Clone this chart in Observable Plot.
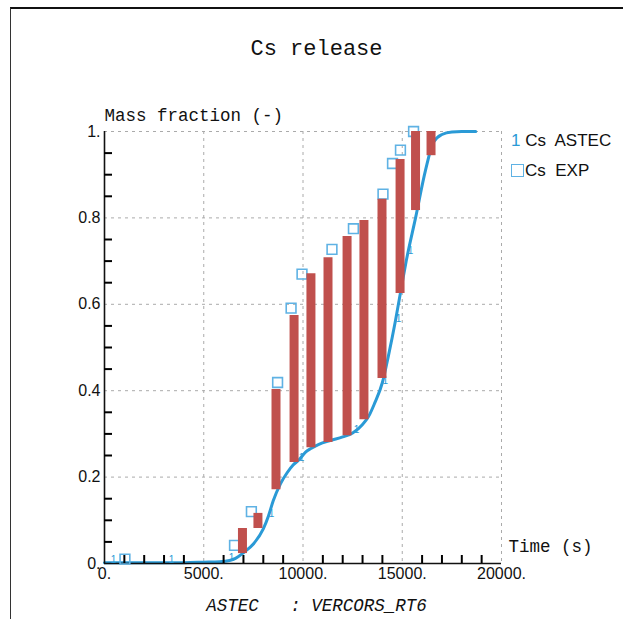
<!DOCTYPE html>
<html><head><meta charset="utf-8">
<script src="https://cdn.jsdelivr.net/npm/d3@7"></script>
<script src="https://cdn.jsdelivr.net/npm/@observablehq/plot@0.6"></script>
<style>
body{margin:0;background:#fff;}
#wrap{position:relative;width:623px;height:619px;overflow:hidden;background:#fff;}
#border{position:absolute;left:10px;top:7px;width:640px;height:640px;border-top:2px solid #111;border-left:1px solid #333;}
#title{position:absolute;top:37px;left:10px;width:613px;text-align:center;font:22px "Liberation Mono",monospace;color:#111;}
#caption{position:absolute;top:596px;left:10px;width:613px;text-align:center;font:italic 17.5px "Liberation Mono",monospace;color:#111;white-space:pre;}
#plot{position:absolute;left:0;top:0;}
.leg{position:absolute;left:511px;font:17px "Liberation Sans",sans-serif;color:#111;white-space:pre;}
.one{color:#2a9ad6;}
.sq{display:inline-block;width:11px;height:11px;border:1.6px solid #5fb2e4;margin-right:1px;vertical-align:-1px;}
</style></head>
<body>
<div id="wrap">
  <div id="border"></div>
  <div id="plot"></div>
  <div id="title">Cs release</div>
  <div id="caption"></div>
  <div class="leg" style="top:131px"><span class="one">1</span> Cs  ASTEC</div>
  <div class="leg" style="top:161px"><span class="sq"></span>Cs  EXP</div>
</div>
<script>
// ---- data ----
const titleText = "Cs release";
const captionText = "ASTEC   : VERCORS_RT6";
const yLabel = "Mass fraction (-)";
const xLabel = "Time (s)";

const xTicks = [0, 5000, 10000, 15000, 20000];
const xTickLabels = ["0.", "5000.", "10000.", "15000.", "20000."];
const yTicks = [0, 0.2, 0.4, 0.6, 0.8, 1];
const yTickLabels = ["0.", "0.2", "0.4", "0.6", "0.8", "1."];
const xMinor = [1000,2000,3000,4000,6000,7000,8000,9000,11000,12000,13000,14000,16000,17000,18000,19000];
const yMinor = [0.05,0.1,0.15,0.25,0.3,0.35,0.45,0.5,0.55,0.65,0.7,0.75,0.85,0.9,0.95];

// ASTEC calculated curve
const astecTime = [0,2000,4000,5000,5800,6300,6600,7000,7500,8000,8260,8500,8870,9200,9500,9800,10130,10400,10800,11400,12000,12500,13000,13300,13600,14000,14300,14660,15000,15200,15670,16170,16570,17000,17500,18000,18700];
const astecFrac = [0.002,0.002,0.002,0.003,0.004,0.007,0.012,0.025,0.045,0.08,0.11,0.145,0.185,0.21,0.228,0.24,0.258,0.266,0.276,0.285,0.293,0.302,0.322,0.34,0.37,0.419,0.48,0.5625,0.65,0.70,0.80,0.91,0.975,0.993,0.999,1.0,1.0];
// "1" symbols along the ASTEC curve
const markTime = [300, 3220, 6250, 8260, 9770, 12540, 14000, 14660, 15260];
const markFrac = [0.003, 0.003, 0.008, 0.11, 0.24, 0.304, 0.419, 0.5625, 0.72];

// experimental points
const expTime = [1030, 6550, 7400, 8720, 9400, 9950, 11460, 12540, 14030, 14510, 14910, 15570];
const expFrac = [0.01, 0.042, 0.12, 0.419, 0.591, 0.670, 0.727, 0.775, 0.855, 0.926, 0.957, 1.0];

// red bars (range)
const barTime = [6950, 7730, 8640, 9550, 10400, 11260, 12220, 13070, 13980, 14890, 15670, 16450];
const barLow  = [0.023, 0.081, 0.171, 0.234, 0.268, 0.280, 0.296, 0.333, 0.428, 0.625, 0.817, 0.944];
const barHigh = [0.081, 0.116, 0.403, 0.574, 0.671, 0.708, 0.757, 0.794, 0.843, 0.935, 1.0, 1.0];

const curve = astecTime.map((t, i) => ({t, v: astecFrac[i]}));
const marks = markTime.map((t, i) => ({t, v: markFrac[i]}));
const exp = expTime.map((t, i) => ({t, v: expFrac[i]}));
const bars = barTime.map((t, i) => ({t, lo: barLow[i], hi: barHigh[i]}));

document.getElementById("title").textContent = titleText;
document.getElementById("caption").textContent = captionText;

const blue = "#2a9ad6", red = "#c0504d", sqBlue = "#5fb2e4";
const mono = "Liberation Mono, monospace";
const sans = "'Liberation Sans', sans-serif";

const W = 623, H = 619, mL = 104, mR = 122, mT = 131, mB = 56;
const frameW = W - mL - mR, frameH = H - mT - mB;
const tickLen = 8;
const xDomain = [0, 20000], yDomain = [0, 1];
// tick length (pixels) expressed in each scale's units
const xTickSpan = tickLen / frameW * (xDomain[1] - xDomain[0]);
const yTickSpan = tickLen / frameH * (yDomain[1] - yDomain[0]);

const chart = Plot.plot({
  width: W, height: H,
  marginLeft: mL, marginRight: mR, marginTop: mT, marginBottom: mB,
  style: {fontFamily: sans, fontSize: "16px", color: "#111", background: "transparent"},
  x: {domain: xDomain},
  y: {domain: yDomain},
  marks: [
    Plot.gridX(xTicks.slice(1), {stroke: "#aaa", strokeOpacity: 1, strokeDasharray: "3,4"}),
    Plot.gridY(yTicks.slice(1), {stroke: "#aaa", strokeOpacity: 1, strokeDasharray: "3,4"}),
    Plot.axisX(xTicks, {tickSize: 0, tickPadding: 4, tickFormat: d => xTickLabels[xTicks.indexOf(d)], label: null, fontSize: 16, fill: "#111"}),
    Plot.axisY(yTicks, {tickSize: 0, tickPadding: 4, tickFormat: d => yTickLabels[yTicks.indexOf(d)], label: null, fontSize: 16, fill: "#111"}),
    Plot.line(curve, {x: "t", y: "v", stroke: blue, strokeWidth: 3, curve: "monotone-x"}),
    Plot.ruleX([0], {stroke: "#111", strokeWidth: 1.6}),
    Plot.ruleY([0], {stroke: "#111", strokeWidth: 1.6}),
    // inward minor ticks
    Plot.ruleX(xMinor, {x: d => d, y1: yDomain[0], y2: yDomain[0] + yTickSpan, stroke: "#000", strokeWidth: 2}),
    Plot.ruleY(yMinor, {y: d => d, x1: xDomain[0], x2: xDomain[0] + xTickSpan, stroke: "#000", strokeWidth: 2}),
    Plot.dot(exp, {x: "t", y: "v", symbol: "square", r: 5.5, stroke: sqBlue, strokeWidth: 1.6, fill: "none"}),
    Plot.text(marks, {x: "t", y: "v", text: () => "1", fill: blue, fontSize: 10, dx: 3, dy: -2}),
    Plot.ruleX(bars, {x: "t", y1: "lo", y2: "hi", stroke: red, strokeWidth: 9}),
    Plot.text([yLabel], {frameAnchor: "top-left", textAnchor: "start", lineAnchor: "middle", dy: -16, fontFamily: mono, fontSize: 17.5, fill: "#111"}),
    Plot.text([xLabel], {frameAnchor: "bottom-right", textAnchor: "start", lineAnchor: "middle", dx: 7, dy: -17, fontFamily: mono, fontSize: 17.5, fill: "#111"})
  ]
});
document.getElementById("plot").appendChild(chart);
</script>
</body></html>
